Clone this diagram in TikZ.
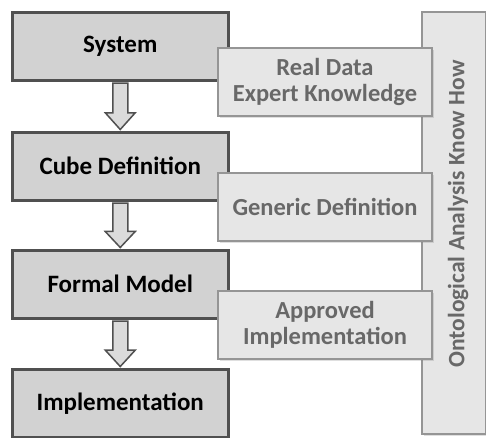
\documentclass[tikz,border=0pt]{standalone}
\usepackage{fontspec}
\setmainfont{Carlito}
\usetikzlibrary{shadows,calc}
\definecolor{mainfill}{HTML}{D2D2D2}
\definecolor{mainedge}{HTML}{505050}
\definecolor{lightfill}{HTML}{E6E6E6}
\definecolor{lightedge}{HTML}{959595}
\definecolor{lighttext}{HTML}{686868}
\tikzset{
  mainbox/.style={draw=mainedge, fill=mainfill, line width=2.5pt, minimum width=216pt, minimum height=68pt, inner sep=0pt,
    font=\fontsize{25}{27}\selectfont\bfseries, text=black,
    drop shadow={shadow xshift=1.5pt, shadow yshift=-1.5pt, opacity=0.35}},
  lightbox/.style={draw=lightedge, fill=lightfill, line width=2pt, minimum width=214pt, minimum height=68pt, inner sep=0pt,
    align=center, font=\fontsize{24.5}{26}\selectfont\bfseries, text=lighttext,
    drop shadow={shadow xshift=1.5pt, shadow yshift=-1.5pt, opacity=0.25}},
  sidebox/.style={draw=lightedge, fill=lightfill, line width=2pt, inner sep=0pt,
    drop shadow={shadow xshift=1.5pt, shadow yshift=-1.5pt, opacity=0.25}},
  blockarrow/.style={draw=mainedge, fill=mainfill!80!white, line width=1.5pt, line join=miter}
}
\begin{document}
\begin{tikzpicture}[x=1pt,y=-1pt]
\useasboundingbox (0,0) rectangle (486,437);
% side box
\node[sidebox, minimum width=64pt, minimum height=422pt, anchor=north west] (side) at (421,11) {};
\node[rotate=90, font=\fontsize{23.5}{25}\selectfont\bfseries, text=lighttext] (sidetext) at (458,214) {Ontological Analysis Know How};
% main boxes
\node[mainbox, anchor=north west] (sys) at (11,11) {System};
\node[mainbox, anchor=north west] (cube) at (11,131) {Cube Definition};
\node[mainbox, anchor=north west] (formal) at (11,249) {Formal Model};
\node[mainbox, anchor=north west] (impl) at (11,368) {Implementation};
% light boxes
\node[lightbox, anchor=north west] (real) at (217,47) {Real Data\\Expert Knowledge};
\node[lightbox, anchor=north west] (gen) at (217,172) {Generic Definition};
\node[lightbox, anchor=north west] (appr) at (217,290) {Approved\\Implementation};
% block arrows
\foreach \a/\b in {sys/cube, cube/formal, formal/impl}{
  \path (\a.south) ++(0,1.5) coordinate (\a-s) (\b.north) ++(0,-1.5) coordinate (\b-n);
  \draw[blockarrow] ([xshift=-7.5pt]\a-s) -- ([xshift=7.5pt]\a-s)
    -- ($([xshift=7.5pt]\b-n)!0.36!([xshift=7.5pt]\a-s)$) -- ++(7.5pt,0)
    -- (\b-n) -- ($([xshift=-15pt]\b-n)!0.36!([xshift=-15pt]\a-s)$) -- ++(7.5pt,0) -- cycle;
}
\end{tikzpicture}
\end{document}
